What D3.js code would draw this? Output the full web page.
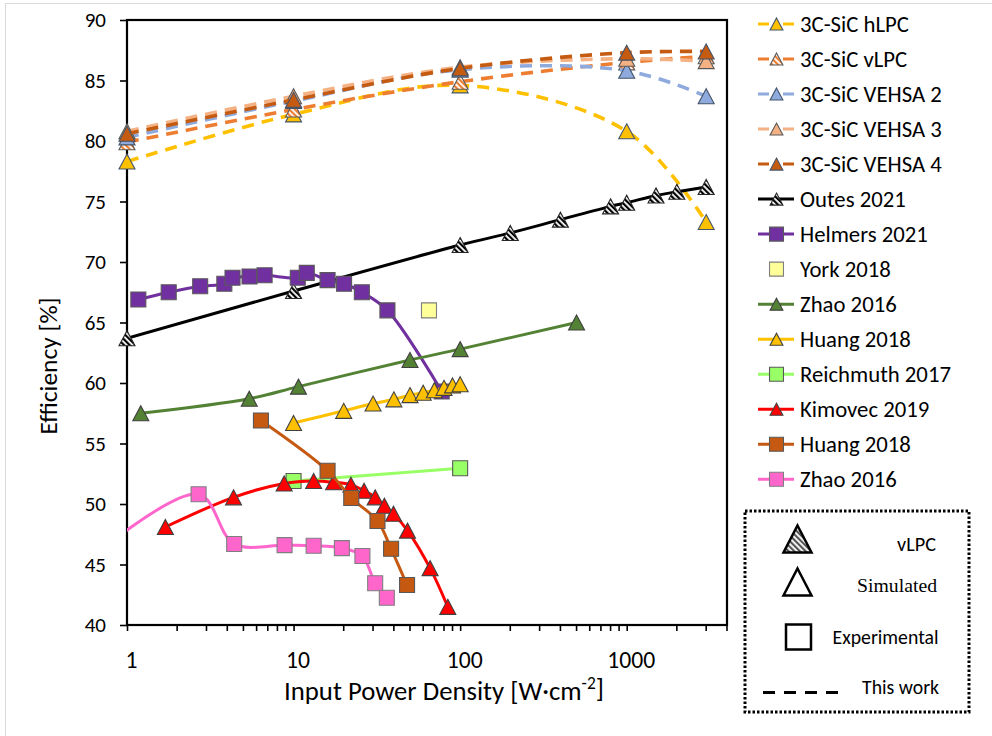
<!DOCTYPE html>
<html><head><meta charset="utf-8">
<script src="https://cdn.jsdelivr.net/npm/d3@7"></script>
<style>body{margin:0;background:#fff}svg{display:block}</style>
</head><body><svg id="c" width="992" height="736"></svg>
<script>
// ---------------- data ----------------
const thisWorkX = [1, 10, 100, 1000, 3000];
const hLPC   = [78.3, 82.2, 84.6, 80.8, 73.3];
const vLPC   = [79.9, 82.6, 84.9, 86.5, 87.0];
const vehsa2 = [80.3, 83.3, 85.9, 85.8, 83.7];
const vehsa3 = [80.8, 83.7, 86.1, 86.8, 86.6];
const vehsa4 = [80.6, 83.4, 86.0, 87.3, 87.4];

const outesX = [1, 10, 100, 200, 400, 800, 1000, 1500, 2000, 3000];
const outesY = [63.7, 67.6, 71.4, 72.4, 73.5, 74.6, 74.9, 75.5, 75.8, 76.2];

const helmersX = [1.17, 1.78, 2.75, 3.84, 4.3, 5.44, 6.7, 10.6, 12.0, 16.0, 20.1, 25.7, 36.6, 77.5];
const helmersY = [66.9, 67.5, 68.0, 68.2, 68.7, 68.8, 68.9, 68.7, 69.1, 68.5, 68.2, 67.5, 66.0, 59.3];

const yorkX = [65];
const yorkY = [66.0];

const zhaoGX = [1.21, 5.42, 10.7, 50, 100, 500];
const zhaoGY = [57.5, 58.7, 59.7, 61.9, 62.8, 65.0];

const huangYX = [10, 20, 30, 40, 50, 60, 70, 80, 90, 100];
const huangYY = [56.7, 57.7, 58.3, 58.65, 59.0, 59.2, 59.4, 59.6, 59.8, 59.9];

const reichX = [10, 100];
const reichY = [51.9, 52.95];

const kimX = [1.7, 4.36, 8.78, 13.2, 17.4, 22.1, 26.5, 30.9, 35.1, 39.8, 48.3, 66, 84.3];
const kimY = [48.1, 50.55, 51.7, 51.9, 51.8, 51.6, 51.1, 50.55, 49.86, 49.2, 47.8, 44.7, 41.5];

const huangBX = [6.37, 16.0, 22.2, 31.9, 38.5, 48.0];
const huangBY = [56.9, 52.75, 50.5, 48.6, 46.3, 43.3];

const zhaoPX = [0.6, 2.69, 4.4, 8.83, 13.2, 19.5, 25.9, 30.9, 36.3];
const zhaoPY = [45.5, 50.8, 46.7, 46.6, 46.55, 46.35, 45.7, 43.45, 42.25];
const zhaoPMarkerFrom = 1; // first point lies off the axis (no visible marker)

const xTickValues = [1, 10, 100, 1000];
const yTickValues = [40, 45, 50, 55, 60, 65, 70, 75, 80, 85, 90];

// ---------------- series definitions ----------------
const series = [
  {name:"3C-SiC hLPC", x:thisWorkX, y:hLPC, color:"#FFC000", fill:"#FFC000", stroke:"#44546A", shape:"tri", dash:true},
  {name:"3C-SiC vLPC", x:thisWorkX, y:vLPC, color:"#ED7D31", fill:"url(#hatchOrange)", stroke:"#595959", shape:"tri", dash:true},
  {name:"3C-SiC VEHSA 2", x:thisWorkX, y:vehsa2, color:"#8FAADC", fill:"#8FAADC", stroke:"#44546A", shape:"tri", dash:true},
  {name:"3C-SiC VEHSA 3", x:thisWorkX, y:vehsa3, color:"#F4B183", fill:"#F4B183", stroke:"#595959", shape:"tri", dash:true},
  {name:"3C-SiC VEHSA 4", x:thisWorkX, y:vehsa4, color:"#C55A11", fill:"#C55A11", stroke:"#44546A", shape:"tri", dash:true},
  {name:"Outes 2021", x:outesX, y:outesY, color:"#000000", fill:"url(#hatchBlack)", stroke:"#262626", shape:"tri"},
  {name:"Helmers 2021", x:helmersX, y:helmersY, color:"#7030A0", fill:"#7030A0", stroke:"#595959", shape:"sq"},
  {name:"York 2018", x:yorkX, y:yorkY, color:null, fill:"#FFFF99", stroke:"#7F7F7F", shape:"sq"},
  {name:"Zhao 2016", x:zhaoGX, y:zhaoGY, color:"#548235", fill:"#548235", stroke:"#404040", shape:"tri"},
  {name:"Huang 2018", x:huangYX, y:huangYY, color:"#FFC000", fill:"#FFC000", stroke:"#404040", shape:"tri"},
  {name:"Reichmuth 2017", x:reichX, y:reichY, color:"#99FF66", fill:"#99FF66", stroke:"#595959", shape:"sq"},
  {name:"Kimovec 2019", x:kimX, y:kimY, color:"#FF0000", fill:"#FF0000", stroke:"#404040", shape:"tri"},
  {name:"Huang 2018", x:huangBX, y:huangBY, color:"#C65911", fill:"#C65911", stroke:"#595959", shape:"sq"},
  {name:"Zhao 2016", x:zhaoPX, y:zhaoPY, color:"#FF66CC", fill:"#FF66CC", stroke:"#7F7F7F", shape:"sq", markerFrom:zhaoPMarkerFrom}
];

// ---------------- drawing ----------------
const svg = d3.select("#c");
const FONT = "Carlito, Calibri, Lato, 'Liberation Sans', sans-serif";
const L = 127, R = 727, T = 20, B = 625;
const x = d3.scaleLog().domain([1, 4000]).range([L, R]);
const y = d3.scaleLinear().domain([40, 90]).range([B, T]);

// scale a text's font so that it reaches a target width
function fitFactor(sel, target) {
  const w = sel.node().getComputedTextLength();
  return w > 0 ? target / w : 1;
}
function fit(sel, target) {
  const f = fitFactor(sel, target);
  sel.attr("font-size", parseFloat(sel.attr("font-size")) * f);
  sel.selectAll("tspan[font-size]").each(function () {
    const t = d3.select(this); t.attr("font-size", parseFloat(t.attr("font-size")) * f);
    if (t.attr("dy")) t.attr("dy", parseFloat(t.attr("dy")) * f);
  });
}

const defs = svg.append("defs");
function hatch(id, col) {
  const p = defs.append("pattern").attr("id", id).attr("patternUnits", "userSpaceOnUse")
    .attr("width", 4).attr("height", 4).attr("patternTransform", "rotate(-45)");
  p.append("rect").attr("width", 4).attr("height", 4).attr("fill", "#fff");
  p.append("rect").attr("width", 2.2).attr("height", 4).attr("fill", col);
}
hatch("hatchOrange", "#ED7D31");
hatch("hatchBlack", "#000");
hatch("hatchKey", "#555");
defs.append("clipPath").attr("id", "plotClip").append("rect")
  .attr("x", L).attr("y", T).attr("width", R - L).attr("height", B - T);

// outer chart border (light grey)
svg.append("line").attr("x1", 5).attr("x2", 992).attr("y1", 3.5).attr("y2", 3.5).attr("stroke", "#D9D9D9");
svg.append("line").attr("x1", 5.5).attr("x2", 5.5).attr("y1", 3).attr("y2", 736).attr("stroke", "#D9D9D9");

// axes
const xAxis = d3.axisBottom(x).tickValues(xTickValues).tickFormat(d3.format("d")).tickSize(6).tickPadding(20);
const gx = svg.append("g").attr("transform", `translate(0,${B})`).call(xAxis);
const minor = [];
for (let dec = 1; dec <= 1000; dec *= 10) for (let k = 2; k <= 9; k++) if (dec * k <= 4000) minor.push(dec * k);
gx.selectAll(".minor").data(minor).enter().append("line").attr("class", "minor")
  .attr("x1", d => x(d)).attr("x2", d => x(d)).attr("y1", 0).attr("y2", 6).attr("stroke", "#000").attr("stroke-width", 1.6);
const yAxis = d3.axisLeft(y).tickValues(yTickValues).tickSize(7).tickPadding(14);
const gy = svg.append("g").attr("transform", `translate(${L},0)`).call(yAxis);
[gx, gy].forEach(g => {
  g.select(".domain").remove();
  g.selectAll(".tick line").attr("stroke", "#000").attr("stroke-width", 1.6);
  g.selectAll("text").attr("font-family", FONT).attr("font-size", 18).attr("fill", "#000");
});
gx.selectAll(".tick text").attr("dx", 4);
{
  const f = fitFactor(gy.selectAll(".tick text").filter(d => d === 90), 21.3);
  gy.selectAll(".tick text").attr("font-size", 18 * f);
  const fx = fitFactor(gx.selectAll(".tick text").filter(d => d === 100), 36);
  gx.selectAll(".tick text").attr("font-size", 18 * fx);
}
// frame
svg.append("rect").attr("x", L).attr("y", T).attr("width", R - L).attr("height", B - T)
  .attr("fill", "none").attr("stroke", "#000").attr("stroke-width", 2.2);

// axis titles
const xt = svg.append("text").attr("x", 444).attr("y", 700).attr("text-anchor", "middle")
  .attr("font-family", FONT).attr("font-size", 20)
  .call(t => {
    t.append("tspan").text("Input Power Density [W·cm");
    t.append("tspan").attr("font-size", 13).attr("dy", -8).text("-2");
    t.append("tspan").attr("dy", 8).text("]");
  });
fit(xt, 320);
const yt = svg.append("text").attr("transform", "translate(57,366) rotate(-90)").attr("text-anchor", "middle")
  .attr("font-family", FONT).attr("font-size", 20).text("Efficiency [%]");
fit(yt, 137);

// marker shapes
function triPath(w, h) { return `M0,${-h/2}L${w/2},${h/2}L${-w/2},${h/2}Z`; }
function sqPath(s) { return `M${-s/2},${-s/2}h${s}v${s}h${-s}Z`; }
function drawMarker(g, s, px, py, scale = 1) {
  g.append("path").attr("transform", `translate(${px},${py})`)
    .attr("d", s.shape === "tri" ? triPath(16 * scale, 15 * scale) : sqPath(15 * scale))
    .attr("fill", s.fill).attr("stroke", s.stroke).attr("stroke-width", 1.1);
}

const plot = svg.append("g");
const lineGen = d3.line().curve(d3.curveCatmullRom.alpha(0.5));
series.forEach(s => {
  const pts = s.x.map((v, i) => [x(v), y(s.y[i])]);
  const g = plot.append("g");
  if (s.color && pts.length > 1) {
    g.append("path").attr("d", lineGen(pts)).attr("clip-path", "url(#plotClip)")
      .attr("fill", "none").attr("stroke", s.color)
      .attr("stroke-width", s.dash ? 3.6 : 3)
      .attr("stroke-dasharray", s.dash ? "12,8" : null);
  }
  pts.forEach((p, i) => { if (i >= (s.markerFrom || 0)) drawMarker(g, s, p[0], p[1]); });
});

// legend
const leg = svg.append("g");
const legTexts = [];
series.forEach((s, i) => {
  const cy = 24 + i * 35.02;
  const g = leg.append("g");
  if (s.color) g.append("line").attr("x1", 758).attr("x2", 794).attr("y1", cy).attr("y2", cy)
    .attr("stroke", s.color).attr("stroke-width", 3).attr("stroke-dasharray", s.dash ? "11,14" : null);
  drawMarker(g, s, 776.5, cy, s.shape === "tri" ? 0.8 : 0.93);
  legTexts.push(g.append("text").attr("x", 800).attr("y", cy + 7.5).attr("font-family", FONT).attr("font-size", 20).text(s.name));
});
{
  const f = fitFactor(legTexts[10], 151);
  legTexts.forEach(t => t.attr("font-size", 20 * f));
}

// key box
const key = svg.append("g");
key.append("rect").attr("x", 745).attr("y", 511).attr("width", 224).attr("height", 201)
  .attr("fill", "#fff").attr("stroke", "#000").attr("stroke-width", 3).attr("stroke-dasharray", "2.5,2");
key.append("path").attr("transform", "translate(797.5,539)").attr("d", triPath(28, 27))
  .attr("fill", "url(#hatchKey)").attr("stroke", "#000").attr("stroke-width", 2.5);
key.append("path").attr("transform", "translate(797.5,582)").attr("d", triPath(28, 27))
  .attr("fill", "#fff").attr("stroke", "#000").attr("stroke-width", 2.5);
key.append("path").attr("transform", "translate(798.5,637)").attr("d", sqPath(25))
  .attr("fill", "#fff").attr("stroke", "#000").attr("stroke-width", 2.5);
key.append("line").attr("x1", 763).attr("x2", 840).attr("y1", 692.5).attr("y2", 692.5)
  .attr("stroke", "#000").attr("stroke-width", 3).attr("stroke-dasharray", "12,9");
fit(key.append("text").attr("x", 936).attr("y", 551).attr("text-anchor", "end").attr("font-family", FONT).attr("font-size", 16).text("vLPC"), 39);
fit(key.append("text").attr("x", 937).attr("y", 591.5).attr("text-anchor", "end").attr("font-family", "'Liberation Serif', 'Times New Roman', serif").attr("font-size", 17).text("Simulated"), 80);
fit(key.append("text").attr("x", 938.5).attr("y", 644).attr("text-anchor", "end").attr("font-family", FONT).attr("font-size", 17).text("Experimental"), 106);
fit(key.append("text").attr("x", 939).attr("y", 693.5).attr("text-anchor", "end").attr("font-family", FONT).attr("font-size", 17).text("This work"), 77);
</script></body></html>
